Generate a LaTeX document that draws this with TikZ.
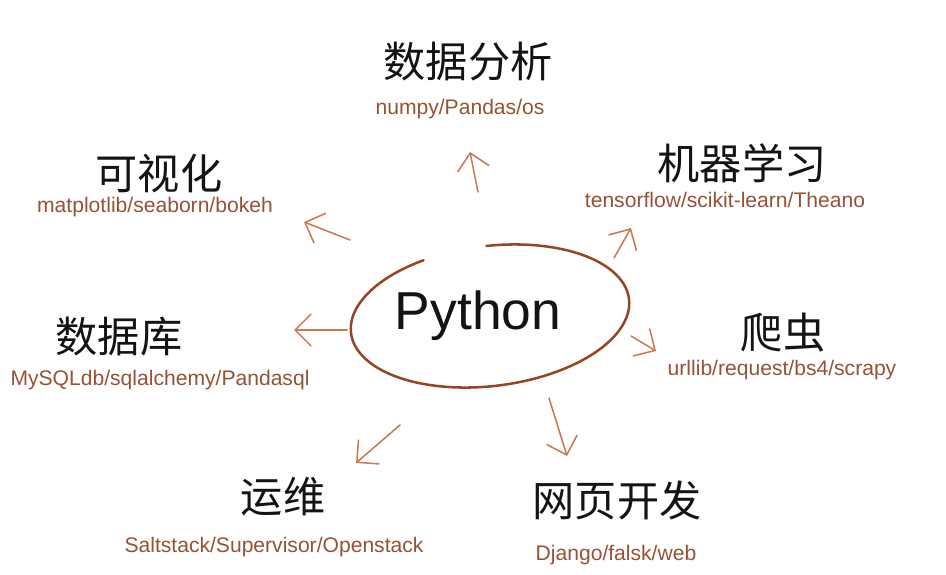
\documentclass[tikz,border=0pt]{standalone}
\usepackage{fontspec}
\usepackage{xcolor}
\usetikzlibrary{arrows.meta, positioning}
\setmainfont{Liberation Sans}
\newfontfamily\cjk{Noto Sans CJK SC}
\newfontfamily\libfont{Liberation Sans}
\definecolor{inkblack}{RGB}{20,20,20}
\definecolor{libbrown}{RGB}{150,82,52}
\definecolor{ringbrown}{RGB}{150,70,35}
\definecolor{spokebrown}{RGB}{205,120,85}
\tikzset{
  topic/.style={font=\cjk\fontsize{30}{36}\selectfont, text=inkblack},
  libs/.style={font=\libfont\fontsize{15}{18}\selectfont, text=libbrown},
  core/.style={font=\fontsize{38}{46}\selectfont, text=inkblack},
  spoke/.style={-{Straight Barb[length=4mm, width=8mm]}, line width=1.1pt, spokebrown, line cap=round},
  ring/.style={line width=1.8pt, ringbrown, line cap=round},
  every node/.style={inner sep=0pt}
}
\begin{document}
\begin{tikzpicture}[x=0.025cm, y=0.025cm]
    \useasboundingbox (0,0) rectangle (946,574);

    % centre
    \node[core] (python) at (478,258) {Python};
    \draw[ring, rotate around={7:(490,258)}] (490,258) ++(115:140 and 70) arc (115:448:140 and 70);

    % topics
    \node[topic] (dataan) at (468,512) {数据分析};
    \node[libs] (dataanlib) at (460,465) {numpy/Pandas/os};
    \node[topic] (ml) at (742,411) {机器学习};
    \node[libs] (mllib) at (725,374) {tensorflow/scikit-learn/Theano};
    \node[topic] (visual) at (159,401) {可视化};
    \node[libs] (visuallib) at (155,367) {matplotlib/seaborn/bokeh};
    \node[topic] (database) at (119,237) {数据库};
    \node[libs] (databaselib) at (160,194) {MySQLdb/sqlalchemy/Pandasql};
    \node[topic] (spider) at (783,241) {爬虫};
    \node[libs] (spiderlib) at (782,204) {urllib/request/bs4/scrapy};
    \node[topic] (ops) at (283,77) {运维};
    \node[libs] (opslib) at (274,27) {Saltstack/Supervisor/Openstack};
    \node[topic] (web) at (617,74) {网页开发};
    \node[libs] (weblib) at (616,19) {Django/falsk/web};

    % arrow ends
    \coordinate (dataanfrom) at (478,382);  \coordinate (dataanto) at (470,422);
    \coordinate (visualfrom) at (350,334);  \coordinate (visualto) at (304,352);
    \coordinate (databasefrom) at (347,244); \coordinate (databaseto) at (294,244);
    \coordinate (mlfrom) at (614,316);      \coordinate (mlto) at (631,346);
    \coordinate (spiderfrom) at (631,238);  \coordinate (spiderto) at (656,223);
    \coordinate (webfrom) at (549,176);     \coordinate (webto) at (567,118);
    \coordinate (opsfrom) at (400,149);     \coordinate (opsto) at (356,111);

    \draw[spoke] (dataanfrom) -- (dataanto);
    \draw[spoke] (visualfrom) -- (visualto);
    \draw[spoke] (databasefrom) -- (databaseto);
    \draw[spoke] (mlfrom) -- (mlto);
    \draw[spoke] (spiderfrom) -- (spiderto);
    \draw[spoke] (webfrom) -- (webto);
    \draw[spoke] (opsfrom) -- (opsto);
\end{tikzpicture}
\end{document}
